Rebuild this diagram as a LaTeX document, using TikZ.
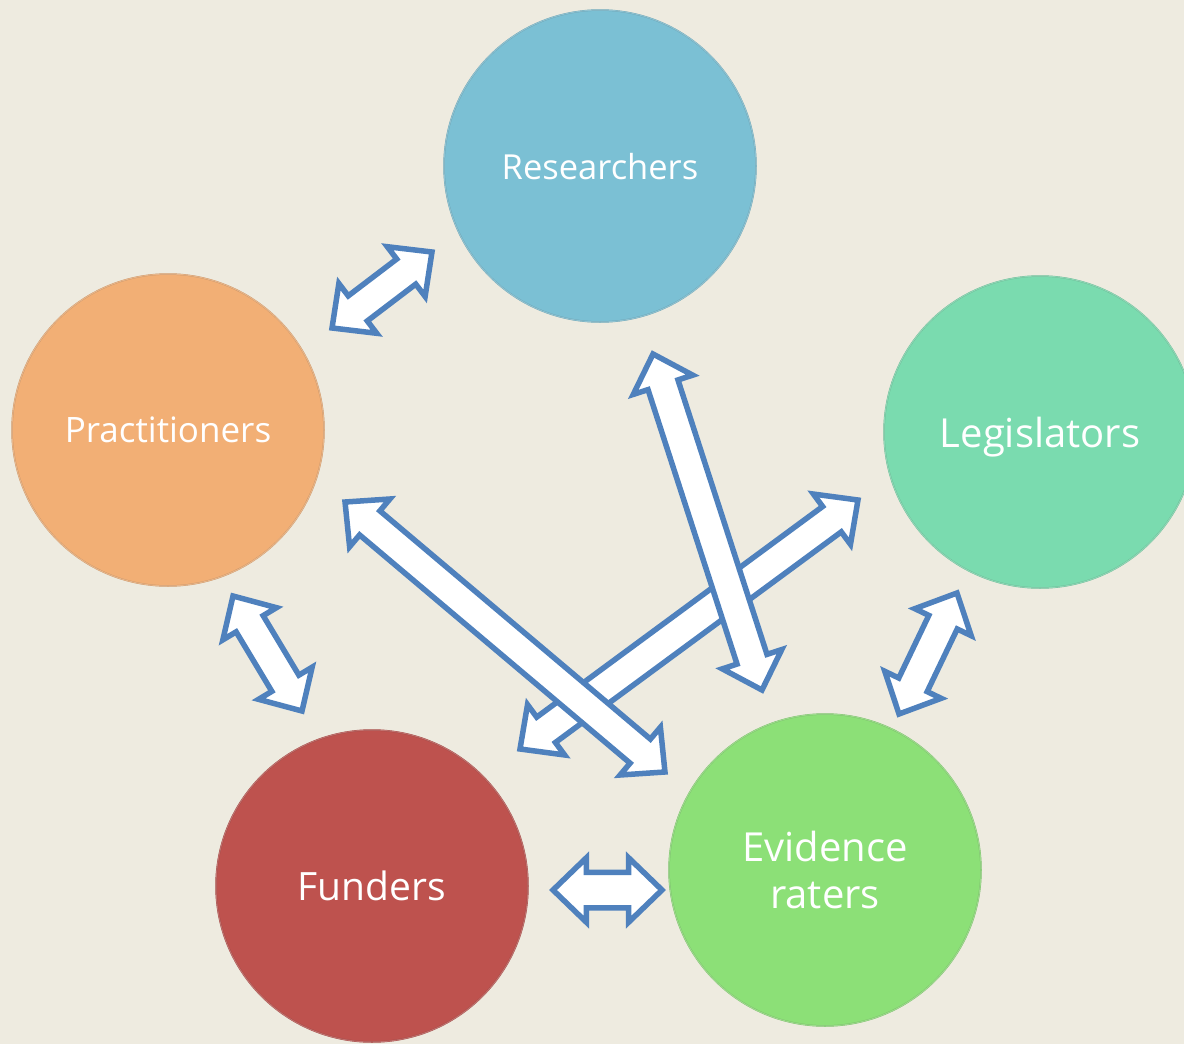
\documentclass[tikz,border=0pt]{standalone}
\usepackage{fontspec}
\setmainfont{Open Sans}
\usetikzlibrary{shapes.arrows,calc}

\definecolor{paper}{HTML}{EEEBE0}
\definecolor{linkblue}{HTML}{4F81BD}
\definecolor{resblue}{HTML}{7BC0D4}
\definecolor{pracorange}{HTML}{F2AF75}
\definecolor{legteal}{HTML}{7ADBAF}
\definecolor{fundred}{HTML}{BE524E}
\definecolor{evidgreen}{HTML}{8CE077}

\tikzset{
  group/.style={circle,minimum size=312pt,inner sep=0pt,text=white,align=center,
    text depth=0pt,fill=#1,draw=#1!82!black,line width=1.5pt,
    postaction={draw=#1!70!white,line width=1pt,opacity=.7}},
  link/.style={double arrow,draw=linkblue,fill=white,line width=5.5pt,
    inner xsep=0pt,inner ysep=13pt,double arrow head extend=15.5pt,
    double arrow tip angle=88}
}

\newcommand\blocklink[3][]{%
  \path let \p1=($(#3)-(#2)$), \n1={veclen(\x1,\y1)}, \n2={atan2(\y1,\x1)} in
    node[link,#1,minimum height=\n1,rotate=\n2] at ($(#2)!.5!(#3)$) {};}

\begin{document}
\begin{tikzpicture}[x=1pt,y=-1pt]
  \useasboundingbox (0,0) rectangle (1184,1044);
  \clip (0,0) rectangle (1184,1044);
  \fill[paper] (0,0) rectangle (1184,1044);

  \node[group=resblue,font=\fontsize{34.5}{42}\selectfont] (res) at (600,166) {Researchers};
  \node[group=pracorange,font=\fontsize{35}{42}\selectfont] (prac) at (168,430) {Practitioners};
  \node[group=legteal,font=\fontsize{40}{48}\selectfont] (leg) at (1040,432) {Legislators};
  \node[group=fundred,font=\fontsize{39}{47}\selectfont] (fund) at (372,886) {Funders};
  \node[group=evidgreen,font=\fontsize{40}{47}\selectfont] (evid) at (825,870) {Evidence\\raters};

  % arrow ends
  \coordinate (pr) at (332,328);  \coordinate (rp) at (432,252);
  \coordinate (re) at (653,354);  \coordinate (er) at (762,690);
  \coordinate (pe) at (345,502);  \coordinate (ep) at (665,772);
  \coordinate (lf) at (858,500);  \coordinate (fl) at (520,749);
  \coordinate (le) at (957,593);  \coordinate (el) at (899,714);
  \coordinate (pf) at (233,596);  \coordinate (fp) at (302,711);
  \coordinate (fe) at (553,890);  \coordinate (ef) at (662,890);

  \foreach \from/\to in {lf/fl,re/er,pe/ep,pr/rp,le/el,pf/fp}
    \blocklink{\from}{\to};
  \blocklink[inner ysep=15pt,double arrow head extend=14.5pt]{fe}{ef};

\end{tikzpicture}
\end{document}
